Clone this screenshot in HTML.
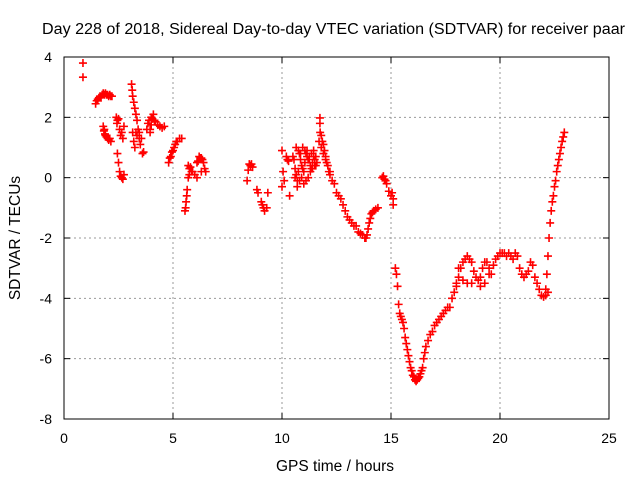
<!DOCTYPE html>
<html><head><meta charset="utf-8"><style>
html,body{margin:0;padding:0;background:#fff;}
svg text{font-family:"Liberation Sans",sans-serif;}
</style></head><body>
<svg id="chart" width="640" height="480" viewBox="0 0 640 480" xmlns="http://www.w3.org/2000/svg">
<rect width="640" height="480" fill="#fff"/>
<text x="42" y="34" font-size="15.5" textLength="583" lengthAdjust="spacingAndGlyphs" fill="#000">Day 228 of 2018, Sidereal Day-to-day VTEC variation (SDTVAR) for receiver paar</text>
<g id="grid"></g>
<g id="ticks"></g>
<g id="marks"></g>
<rect x="64" y="57" width="545" height="362" fill="none" stroke="#000" stroke-width="1"/>
<text x="335" y="471" font-size="15.5" text-anchor="middle">GPS time / hours</text>
<text transform="translate(20,238) rotate(-90)" font-size="15.5" text-anchor="middle">SDTVAR / TECUs</text>
</svg>
<script>
const xTicks=[0,5,10,15,20,25];
const yTicks=[4,2,0,-2,-4,-6,-8];
const times=[0.87,0.87,1.45,1.5,1.55,1.6,1.65,1.7,1.75,1.8,1.85,1.9,1.95,2.0,2.05,2.1,2.15,2.2,
1.8,1.83,1.85,1.88,1.9,1.95,2.0,2.05,2.1,2.15,
2.4,2.43,2.45,2.5,2.55,2.6,2.65,2.7,2.75,2.45,2.5,2.55,2.6,2.65,2.7,2.75,
3.1,3.13,3.15,3.2,3.25,3.3,3.35,3.15,3.2,3.25,3.35,3.45,3.5,3.6,3.65,3.3,3.4,3.45,3.55,
3.8,3.85,3.9,3.95,4.0,4.05,4.1,4.15,4.2,4.3,4.4,4.5,4.6,3.95,4.0,
4.8,4.85,4.9,4.95,5.0,5.05,5.1,5.15,5.2,5.3,5.4,
5.55,5.58,5.6,5.63,5.65,5.7,5.75,5.8,5.85,5.9,6.0,6.1,5.7,5.75,
6.1,6.15,6.2,6.25,6.3,6.35,6.4,6.45,6.5,6.3,
8.4,8.45,8.5,8.55,8.6,8.65,
8.85,8.9,9.05,9.1,9.15,9.2,9.3,9.35,
10.0,10.05,10.1,10.0,10.2,10.25,10.3,10.35,
10.5,10.55,10.6,10.65,10.7,10.75,10.8,10.85,10.9,10.95,11.0,11.05,11.1,11.15,11.2,11.25,11.3,11.35,11.4,11.45,11.5,11.55,11.6,
10.6,10.7,10.8,10.9,11.0,11.1,11.2,11.3,11.4,11.5,
10.65,10.75,10.85,10.95,11.05,11.15,11.25,11.35,11.45,11.55,
11.74,11.74,11.7,11.75,11.8,11.85,11.9,11.95,12.0,12.05,12.1,12.15,12.2,12.3,12.4,12.5,12.6,12.7,12.8,12.9,13.0,13.1,13.2,13.3,13.4,13.5,13.6,13.7,13.8,13.85,13.9,
11.8,11.9,12.0,12.1,12.2,
13.95,14.0,14.05,14.1,14.15,14.2,14.3,14.4,
14.6,14.65,14.7,14.75,14.8,14.9,15.0,15.05,15.1,15.1,
15.2,15.25,15.3,15.35,15.4,15.45,15.5,15.55,15.6,15.65,15.7,15.75,15.8,15.85,15.9,15.95,16.0,16.05,16.1,16.15,16.2,16.25,16.3,16.35,16.4,16.45,16.5,16.55,16.6,16.7,16.8,16.9,17.0,17.1,17.2,17.3,17.4,17.5,17.6,17.7,17.8,17.9,18.0,
18.0,18.1,18.2,18.3,18.4,18.5,18.6,18.7,18.8,18.9,19.0,19.1,19.2,19.3,19.4,19.5,19.6,19.7,19.8,19.9,20.0,
18.1,18.3,18.5,18.7,18.9,19.1,19.3,19.5,
20.1,20.2,20.3,20.4,20.5,20.6,20.7,20.8,20.9,21.0,21.1,21.2,21.3,21.4,21.5,21.6,21.7,21.8,21.9,22.0,22.1,22.2,
22.1,22.15,22.2,22.25,22.3,22.35,22.4,22.45,22.5,22.55,22.6,22.65,22.7,22.75,22.8,22.85,22.9,22.95];
const values=[3.8,3.33,2.45,2.55,2.6,2.65,2.7,2.65,2.75,2.8,2.75,2.8,2.75,2.75,2.7,2.75,2.7,2.7,
1.7,1.55,1.6,1.45,1.4,1.35,1.3,1.25,1.3,1.2,
2.0,1.8,1.9,1.95,1.6,1.4,1.5,1.3,1.7,0.8,0.5,0.2,0.05,0.0,-0.05,0.1,
3.1,2.9,2.7,2.5,2.3,2.1,1.9,1.5,1.2,1.0,1.4,1.3,1.1,0.8,0.85,1.5,1.6,1.5,1.3,
1.6,1.8,1.9,1.5,2.0,1.95,2.1,1.9,1.85,1.75,1.7,1.65,1.7,1.6,1.75,
0.5,0.65,0.7,0.85,0.9,1.0,1.1,1.2,1.2,1.3,1.3,
-1.1,-1.0,-0.8,-0.6,-0.4,0.0,0.3,0.35,0.2,0.2,0.1,0.0,0.4,0.1,
0.5,0.55,0.7,0.65,0.65,0.6,0.5,0.3,0.2,0.2,
-0.1,0.25,0.45,0.4,0.45,0.35,
-0.4,-0.5,-0.8,-0.9,-1.0,-1.1,-1.0,-0.5,
0.9,0.2,-0.1,-0.3,0.7,0.6,0.55,-0.6,
0.7,0.6,0.3,0.1,-0.1,0.2,0.8,0.6,0.4,0.3,0.2,0.5,0.8,0.9,0.6,0.7,0.4,0.3,0.5,0.7,0.6,0.4,0.5,
0.0,-0.3,-0.1,0.0,-0.2,-0.1,0.0,0.2,0.3,0.4,
1.0,0.9,0.8,1.0,0.9,0.7,0.6,0.8,0.9,0.7,
1.98,1.8,1.2,1.5,1.4,1.2,1.1,0.9,0.7,0.5,0.4,0.2,0.1,-0.1,-0.2,-0.5,-0.6,-0.7,-0.9,-1.1,-1.3,-1.4,-1.5,-1.6,-1.6,-1.8,-1.85,-1.9,-2.0,-2.0,-1.9,
1.0,0.8,0.6,0.4,0.2,
-1.7,-1.5,-1.35,-1.2,-1.15,-1.1,-1.05,-1.0,
0.0,0.05,-0.05,-0.1,-0.2,-0.45,-0.6,-0.5,-0.7,-0.9,
-3.0,-3.2,-3.6,-4.2,-4.5,-4.6,-4.7,-4.8,-5.0,-5.3,-5.5,-5.7,-5.9,-6.1,-6.3,-6.4,-6.55,-6.6,-6.7,-6.75,-6.7,-6.65,-6.6,-6.5,-6.4,-6.3,-6.0,-5.8,-5.6,-5.4,-5.2,-5.1,-4.9,-4.8,-4.7,-4.6,-4.5,-4.4,-4.3,-4.3,-4.0,-3.8,-3.6,
-3.5,-3.3,-3.0,-2.8,-2.7,-2.6,-2.7,-2.8,-3.1,-3.3,-3.4,-3.3,-3.0,-2.8,-2.8,-3.0,-3.2,-2.9,-2.7,-2.6,-2.5,
-3.0,-3.4,-3.5,-3.5,-3.3,-3.6,-3.5,-3.2,
-2.5,-2.5,-2.6,-2.5,-2.6,-2.7,-2.5,-2.6,-3.0,-3.2,-3.3,-3.2,-3.1,-2.8,-2.9,-3.3,-3.5,-3.7,-3.9,-3.95,-3.9,-3.8,
-3.7,-3.2,-2.6,-2.0,-1.5,-1.1,-0.8,-0.6,-0.3,-0.1,0.2,0.4,0.6,0.8,1.0,1.2,1.35,1.5];
const X0=64,X1=609,Y0=57,Y1=419;
const xs=t=>X0+(t-0)/(25-0)*(X1-X0);
const ys=v=>Y0+(4-v)/(4-(-8))*(Y1-Y0);
const NS="http://www.w3.org/2000/svg";
const grid=document.getElementById('grid'),ticks=document.getElementById('ticks'),marks=document.getElementById('marks');
function mk(tag,attrs,parent){const e=document.createElementNS(NS,tag);for(const k in attrs)e.setAttribute(k,attrs[k]);parent.appendChild(e);return e;}
xTicks.forEach(t=>{const x=xs(t);
 if(t>0&&t<25){const g=mk('line',{x1:x,x2:x,y1:Y0,y2:Y1,stroke:'#999','stroke-dasharray':'2,3'},grid);
 
 }
 mk('line',{x1:x,x2:x,y1:Y1,y2:Y1-6,stroke:'#000'},ticks);mk('line',{x1:x,x2:x,y1:Y0,y2:Y0+6,stroke:'#000'},ticks);
 const l=mk('text',{x:x,y:443,'font-size':14,'text-anchor':'middle'},ticks);l.textContent=t;
 
 });
yTicks.forEach(v=>{const y=ys(v);
 if(v<4&&v>-8){const g=mk('line',{x1:X0,x2:X1,y1:y,y2:y,stroke:'#999','stroke-dasharray':'2,3'},grid);
 
 }
 mk('line',{x1:X0,x2:X0+6,y1:y,y2:y,stroke:'#000'},ticks);mk('line',{x1:X1,x2:X1-6,y1:y,y2:y,stroke:'#000'},ticks);
 const l=mk('text',{x:52,y:y+5,'font-size':14,'text-anchor':'end'},ticks);l.textContent=v;
 
 });
let d='';
times.forEach((t,i)=>{const x=xs(t),y=ys(values[i]);d+=`M${x-4},${y}h8M${x},${y-4}v8`;});
const p=mk('path',{d:d,stroke:'#f00','stroke-width':1.6,fill:'none'},marks);


</script>
</body></html>
